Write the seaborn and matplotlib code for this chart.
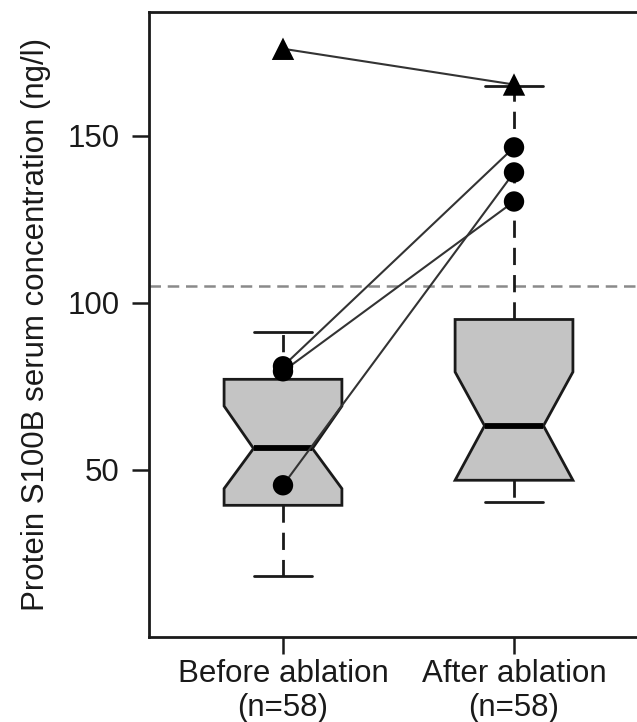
import matplotlib
matplotlib.use("Agg")
import matplotlib.pyplot as plt
import numpy as np
import pandas as pd
import seaborn as sns

# ---------------- data ----------------
groups = ["Before ablation\n(n=58)", "After ablation\n(n=58)"]
q1 = [39.4, 46.9]
medians = [56.4, 63.2]
q3 = [77.1, 95.0]
whisker_low = [18.2, 40.4]
whisker_high = [91.3, 165.0]
notch_low = [44.4, 46.9]
notch_high = [69.1, 79.3]

pair_ids = ["p1", "p2", "p3", "p4"]
pair_shapes = ["triangle", "circle", "circle", "circle"]
before_values = [176.0, 81.0, 79.5, 45.4]
after_values = [165.3, 146.5, 130.3, 139.0]

reference_level = 105
yticks = [50, 100, 150]
ylabel = "Protein S100B serum concentration (ng/l)"

# ---------------- style ----------------
sns.set_theme(style="ticks")
plt.rcParams["font.family"] = ["Liberation Sans", "DejaVu Sans"]
ink = "#1a1a1a"
fs = 22.5

fig = plt.figure(figsize=(6.37, 7.22), dpi=100)
ax = fig.add_axes([149 / 637, 85 / 722, 499 / 637, 625 / 722])

positions = np.arange(len(groups))

# boxes (notched, R style)
stats = []
for i, g in enumerate(groups):
    stats.append(dict(label=g, q1=q1[i], med=medians[i], q3=q3[i],
                      whislo=whisker_low[i], whishi=whisker_high[i],
                      cilo=notch_low[i], cihi=notch_high[i], fliers=[]))
ax.bxp(stats, positions=positions, widths=0.51, shownotches=True,
       patch_artist=True, showfliers=False, manage_ticks=False,
       boxprops=dict(facecolor="#c4c4c4", edgecolor=ink, linewidth=2.0),
       medianprops=dict(color="black", linewidth=4.2, solid_capstyle="butt"),
       whiskerprops=dict(color=ink, linewidth=2.0, linestyle=(0, (6.2, 3.6))),
       capprops=dict(color=ink, linewidth=2.0))

# reference line
ax.axhline(reference_level, color="#8a8a8a", linewidth=1.8,
           linestyle=(0, (4.6, 2.7)), zorder=1.5)

# paired observations
pair_df = pd.DataFrame({
    "pair": pair_ids * 2,
    "shape": pair_shapes * 2,
    "group": [groups[0]] * len(pair_ids) + [groups[1]] * len(pair_ids),
    "value": before_values + after_values,
})
pair_df["pos"] = pd.Categorical(pair_df["group"], categories=groups).codes

sns.lineplot(data=pair_df, x="pos", y="value", units="pair", estimator=None,
             color="#333333", linewidth=1.5, sort=False, ax=ax, zorder=3,
             legend=False)
sns.scatterplot(data=pair_df, x="pos", y="value", style="shape", size="shape",
                markers={"triangle": "^", "circle": "o"},
                sizes={"triangle": 260, "circle": 215},
                color="black", edgecolor="black", linewidth=0,
                ax=ax, zorder=4, legend=False)

# axes
ax.set_xlim(-0.58, 1.58)
ax.set_ylim(0, 187)
ax.set_xticks(positions)
ax.set_xticklabels(groups, fontsize=fs, color=ink, linespacing=1.15)
ax.set_yticks(yticks)
ax.set_yticklabels([str(t) for t in yticks], fontsize=fs, color=ink)
ax.set_xlabel("")
ax.set_ylabel(ylabel, fontsize=fs, color=ink, labelpad=12)
ax.tick_params(axis="both", length=12, width=1.8, color=ink)
ax.tick_params(axis="y", pad=9)
ax.tick_params(axis="x", pad=4)
for s in ["left", "bottom", "top", "right"]:
    ax.spines[s].set_visible(True)
    ax.spines[s].set_linewidth(2.0)
    ax.spines[s].set_color(ink)

fig.savefig("out.png", dpi=100)
